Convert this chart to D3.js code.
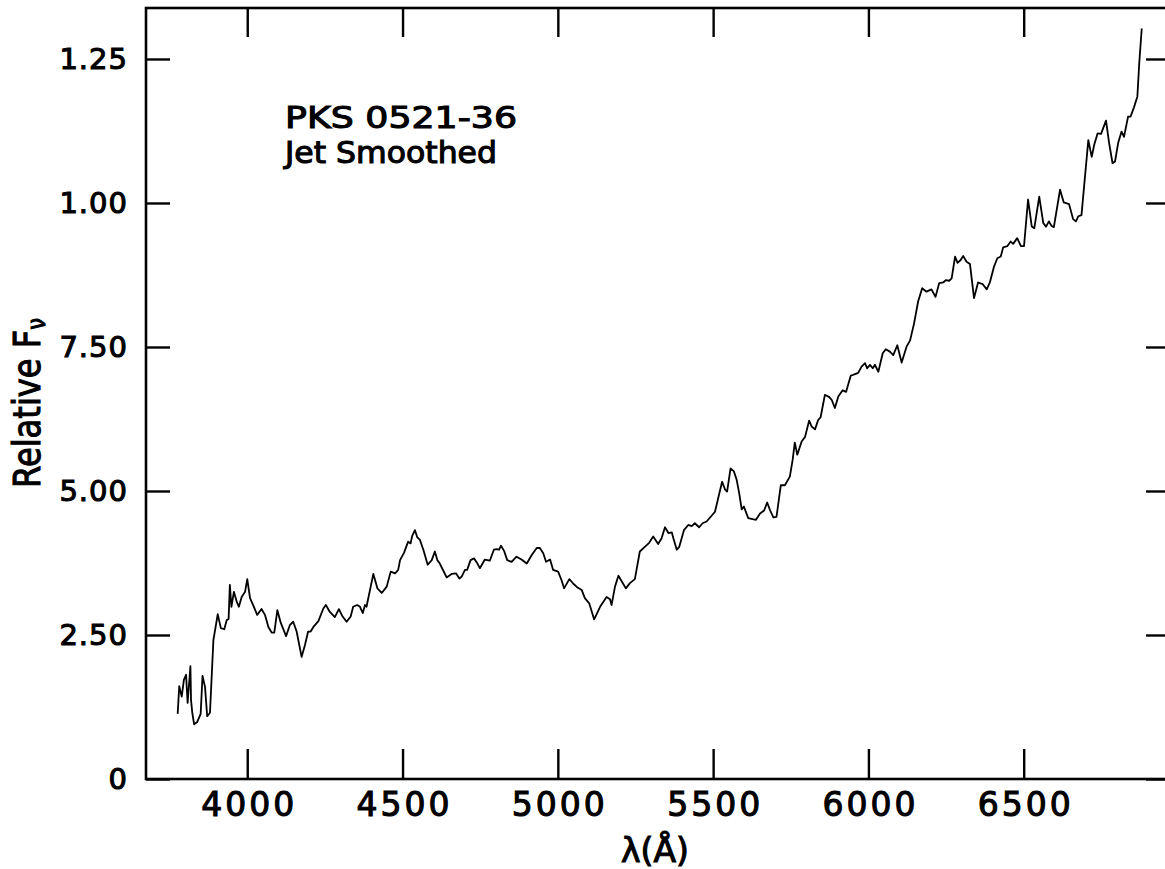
<!DOCTYPE html>
<html>
<head>
<meta charset="utf-8">
<script src="https://cdn.jsdelivr.net/npm/d3@7"></script>
<style>
  body { margin: 0; background: #fff; }
  /* plotter lettering is heavier than the regular weight */
  text { font-family: "DejaVu Sans", sans-serif; fill: #000; stroke: #000; stroke-width: 1.1px; }
</style>
</head>
<body>
<script>
// Spectrum data (wavelength in Angstrom, relative flux)
const wavelength = [3776,3781,3789,3796,3803,3808,3813,3817,3819,3823,3829,3839,3850,3856,3864,3871,3880,3891,3905,3915,
  3926,3934,3940,3944,3949,3957,3966,3973,3982,3993,4000,4009,4019,4032,4046,4057,4068,4079,4087,4097,
  4108,4125,4137,4148,4159,4175,4186,4196,4204,4213,4229,4245,4253,4266,4282,4295,4307,4320,4333,4341,
  4354,4363,4372,4379,4384,4406,4419,4433,4449,4462,4476,4486,4492,
  4505,4518,4526,4531,4540,4547,4556,4567,4581,4594,4604,4612,4620,4631,4642,4658,4672,4683,4690,4701,
  4708,4719,4730,4739,4749,4765,4781,4794,4803,4811,4817,4827,4837,4851,4867,4883,4900,4916,4932,4942,
  4953,4962,4975,4985,5001,5012,5020,5037,5050,5062,5077,5087,5101,5117,5136,5157,5168,5173,5184,5195,
  5206,5219,5232,5248,5264,5280,5294,5307,5323,5334,5345,5356,5367,5372,5383,5391,
  5406,5420,5431,5441,5455,5466,5479,5495,5506,5520,5529,5538,5545,5556,5567,5576,5584,5592,5599,5613,
  5627,5638,5651,5664,5674,5683,5694,5704,5718,5731,5747,5756,5763,5771,5785,5796,5809,5817,5828,5838,
  5846,5860,5874,5882,5892,5903,5917,5928,5943,5957,5967,5978,5989,5996,6005,6014,6021,6032,6046,6056,
  6069,6080,6093,6107,6123,6134,
  6147,6160,6173,6187,6203,6216,6228,6241,6249,6260,6268,6279,6287,6297,6305,6316,6327,6340,6353,6368,
  6381,6391,6404,6415,6426,6434,6447,6458,6466,6479,6491,6501,
  6514,6526,6534,6550,6563,6572,6581,6590,6597,6617,6629,6646,6659,6668,6676,6686,6708,6719,6727,6738,
  6749,6765,6775,6786,6794,6804,6815,6823,6836,6844,6855,6866,6872,6880];

const flux = [0.113,0.161,0.143,0.172,0.181,0.132,0.167,0.196,0.137,0.115,0.095,0.099,0.113,0.179,0.160,0.109,0.115,0.241,0.286,0.262,
  0.260,0.276,0.278,0.337,0.299,0.325,0.308,0.299,0.316,0.325,0.347,0.314,0.302,0.285,0.295,0.285,0.264,0.254,0.254,0.293,
  0.271,0.248,0.267,0.273,0.256,0.212,0.233,0.256,0.256,0.264,0.274,0.296,0.302,0.290,0.281,0.295,0.282,0.273,0.282,0.299,
  0.302,0.299,0.288,0.302,0.299,0.356,0.331,0.323,0.334,0.360,0.357,0.363,0.380,
  0.393,0.412,0.409,0.422,0.432,0.420,0.415,0.398,0.372,0.380,0.395,0.380,0.374,0.362,0.350,0.356,0.357,0.348,0.351,0.363,
  0.363,0.380,0.383,0.376,0.366,0.381,0.379,0.398,0.399,0.398,0.405,0.396,0.380,0.377,0.386,0.381,0.374,0.389,0.401,0.401,
  0.392,0.377,0.381,0.363,0.360,0.345,0.331,0.347,0.339,0.333,0.328,0.314,0.305,0.277,0.299,0.316,0.312,0.302,0.334,0.353,
  0.343,0.331,0.340,0.347,0.395,0.403,0.410,0.421,0.408,0.418,0.437,0.427,0.428,0.418,0.398,0.403,
  0.432,0.441,0.439,0.444,0.437,0.444,0.447,0.457,0.464,0.496,0.516,0.503,0.499,0.539,0.534,0.519,0.496,0.468,0.473,0.453,
  0.451,0.450,0.461,0.466,0.480,0.467,0.454,0.455,0.510,0.510,0.525,0.554,0.584,0.563,0.586,0.594,0.622,0.612,0.607,0.623,
  0.628,0.667,0.663,0.658,0.644,0.664,0.675,0.672,0.700,0.703,0.705,0.716,0.722,0.713,0.719,0.713,0.719,0.707,0.739,0.746,
  0.742,0.736,0.753,0.723,0.751,0.761,
  0.791,0.829,0.852,0.846,0.850,0.837,0.861,0.862,0.866,0.865,0.869,0.907,0.896,0.901,0.908,0.898,0.894,0.835,0.862,0.859,
  0.850,0.862,0.889,0.904,0.907,0.923,0.925,0.933,0.929,0.939,0.925,0.925,
  1.006,0.959,0.956,1.011,0.965,0.959,0.968,0.960,0.958,1.023,1.001,0.998,0.972,0.968,0.977,0.979,1.109,1.080,1.101,1.121,
  1.120,1.143,1.104,1.069,1.072,1.104,1.124,1.115,1.150,1.150,1.166,1.185,1.243,1.303];

// Axis ticks and the labels as printed on the original
const xTicks = [4000, 4500, 5000, 5500, 6000, 6500];
const yTicks = [0, 0.25, 0.5, 0.75, 1.0, 1.25];
const yTickLabels = ["0", "2.50", "5.00", "7.50", "1.00", "1.25"];

const titleLines = ["PKS 0521-36", "Jet Smoothed"];

const width = 1165, height = 869;
const plotLeft = 146, plotRight = 1170, plotTop = 8, plotBottom = 779;

const x = d3.scaleLinear().domain([3674, 6971]).range([plotLeft, plotRight]);
const y = d3.scaleLinear().domain([0, 1.3385]).range([plotBottom, plotTop]);

const svg = d3.select("body")
    .append("svg")
    .attr("width", width)
    .attr("height", height);

svg.append("rect")
    .attr("width", width)
    .attr("height", height)
    .attr("fill", "#fff");

// frame
svg.append("rect")
    .attr("x", plotLeft)
    .attr("y", plotTop)
    .attr("width", plotRight - plotLeft)
    .attr("height", plotBottom - plotTop)
    .attr("fill", "none")
    .attr("stroke", "#000")
    .attr("stroke-width", 2.6);

// bottom axis with labels
const xAxis = svg.append("g")
    .attr("transform", `translate(0,${plotBottom})`)
    .call(d3.axisBottom(x).tickValues(xTicks).tickSizeInner(-30).tickSizeOuter(0).tickPadding(14).tickFormat(d3.format("d")));

xAxis.selectAll("text")
    .style("font-size", "33px")
    .style("letter-spacing", "3px")
    .attr("dx", "1.5");

// top axis, ticks only
svg.append("g")
    .attr("transform", `translate(0,${plotTop})`)
    .call(d3.axisTop(x).tickValues(xTicks).tickSizeInner(-29).tickSizeOuter(0).tickFormat(""));

// left axis with labels
const yAxis = svg.append("g")
    .attr("transform", `translate(${plotLeft},0)`)
    .call(d3.axisLeft(y).tickValues(yTicks).tickSizeInner(-24).tickSizeOuter(0).tickPadding(18)
      .tickFormat((d, i) => yTickLabels[i]));

yAxis.selectAll("text")
    .style("font-size", "29px")
    .style("letter-spacing", "1px");

// right axis, ticks only
svg.append("g")
    .attr("transform", `translate(${plotRight},0)`)
    .call(d3.axisRight(y).tickValues(yTicks).tickSizeInner(-24).tickSizeOuter(0).tickFormat(""));

svg.selectAll(".domain").remove();
svg.selectAll(".tick line")
    .attr("stroke", "#000")
    .attr("stroke-width", 2.4);

// spectrum line
const points = wavelength.map((w, i) => [w, flux[i]]);

svg.append("path")
    .datum(points)
    .attr("fill", "none")
    .attr("stroke", "#000")
    .attr("stroke-width", 1.8)
    .attr("stroke-linejoin", "round")
    .attr("d", d3.line().x(d => x(d[0])).y(d => y(d[1])));

// object name
svg.append("text")
    .attr("x", 285)
    .attr("y", 128)
    .attr("textLength", 232)
    .attr("lengthAdjust", "spacingAndGlyphs")
    .style("font-size", "30px")
    .text(titleLines[0]);

svg.append("text")
    .attr("x", 285)
    .attr("y", 163)
    .attr("textLength", 212)
    .attr("lengthAdjust", "spacingAndGlyphs")
    .style("font-size", "30px")
    .text(titleLines[1]);

// x axis title
svg.append("text")
    .attr("x", 655)
    .attr("y", 862)
    .attr("text-anchor", "middle")
    .style("font-size", "33px")
    .text("λ(Å)");

// y axis title
const yLabel = svg.append("text")
    .attr("transform", "translate(40,488) rotate(-90)")
    .attr("textLength", 170)
    .attr("lengthAdjust", "spacingAndGlyphs")
    .style("font-size", "37px");

yLabel.append("tspan").text("Relative F");
yLabel.append("tspan")
    .attr("dy", 5)
    .style("font-size", "24px")
    .text("ν");
</script>
</body>
</html>
